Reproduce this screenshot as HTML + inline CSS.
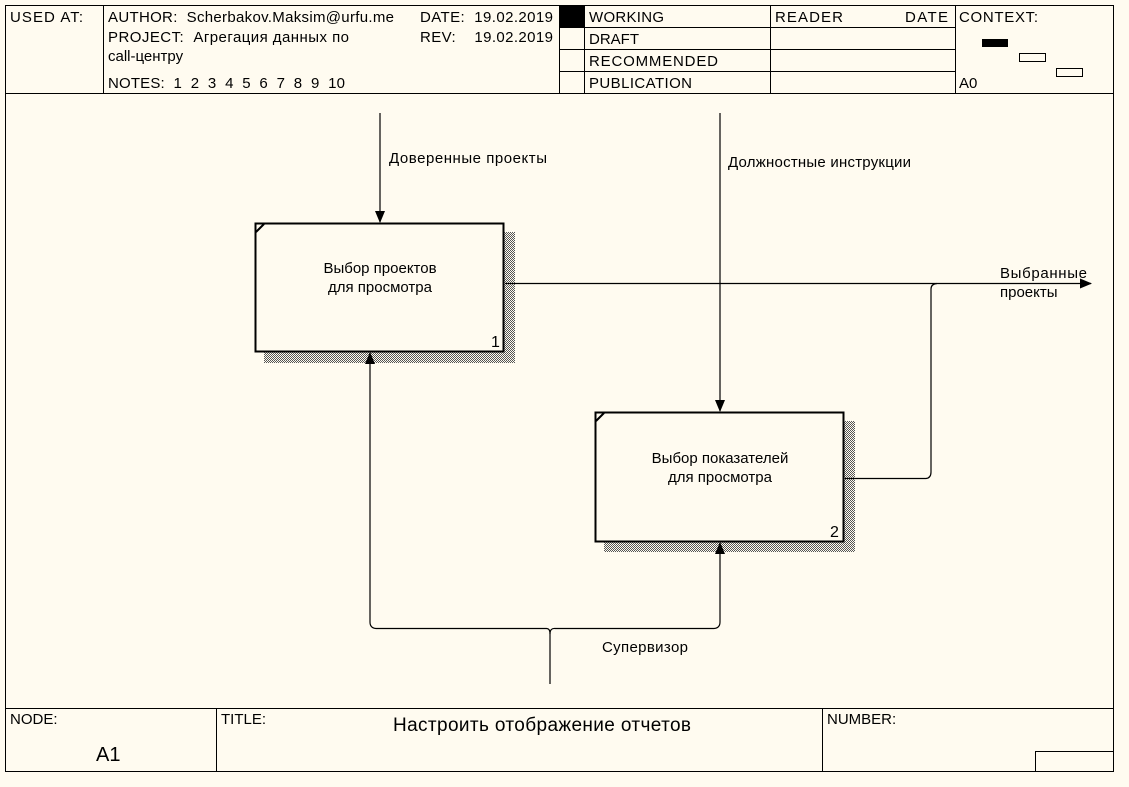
<!DOCTYPE html>
<html><head><meta charset="utf-8"><style>
body{margin:0;background:#fffbf0;}
svg{display:block}
text{font-family:"Liberation Sans","DejaVu Sans",sans-serif;fill:#000;white-space:pre;}
</style></head><body>
<svg width="1129" height="787" viewBox="0 0 1129 787" xmlns="http://www.w3.org/2000/svg">
<defs>
<pattern id="dots" width="2" height="2" patternUnits="userSpaceOnUse">
<rect width="2" height="2" fill="#fffbf0"/><rect width="1" height="1" fill="#555"/><rect x="1" y="1" width="1" height="1" fill="#555"/>
</pattern>
<marker id="ar" markerWidth="12" markerHeight="12" refX="11" refY="5" orient="auto" markerUnits="userSpaceOnUse"><path d="M0,0 L12,5 L0,10 z" fill="#000"/></marker>
</defs>
<rect width="1129" height="787" fill="#fffbf0"/>
<g stroke="#000" stroke-width="1" fill="none">
<rect x="5.5" y="5.5" width="1108" height="766"/>
<line x1="5" y1="93.5" x2="1113" y2="93.5"/>
<line x1="103.5" y1="5" x2="103.5" y2="93"/>
<line x1="559.5" y1="5" x2="559.5" y2="93"/>
<line x1="584.5" y1="5" x2="584.5" y2="93"/>
<line x1="770.5" y1="5" x2="770.5" y2="93"/>
<line x1="955.5" y1="5" x2="955.5" y2="93"/>
<line x1="559" y1="27.5" x2="955" y2="27.5"/>
<line x1="559" y1="49.5" x2="955" y2="49.5"/>
<line x1="559" y1="71.5" x2="955" y2="71.5"/>
<rect x="1019.5" y="53.5" width="26" height="8"/>
<rect x="1056.5" y="68.5" width="26" height="8"/>
<line x1="5" y1="708.5" x2="1113" y2="708.5"/>
<line x1="216.5" y1="708" x2="216.5" y2="771"/>
<line x1="822.5" y1="708" x2="822.5" y2="771"/>
<rect x="1035.5" y="751.5" width="78" height="20"/>
</g>
<rect x="560" y="6" width="24" height="21" fill="#000"/>
<rect x="982" y="39" width="26" height="8" fill="#000"/>
<g font-size="15">
<text x="10" y="22" textLength="73">USED AT:</text>
<text x="108" y="22" textLength="286">AUTHOR:  Scherbakov.Maksim@urfu.me</text>
<text x="108" y="42" textLength="241">PROJECT:  Агрегация данных по</text>
<text x="108" y="61">call-центру</text>
<text x="108" y="88" textLength="237">NOTES:  1  2  3  4  5  6  7  8  9  10</text>
<text x="420" y="22" textLength="133">DATE:  19.02.2019</text>
<text x="420" y="42" textLength="133">REV:    19.02.2019</text>
<text x="589" y="22" textLength="75">WORKING</text>
<text x="589" y="44">DRAFT</text>
<text x="589" y="66" textLength="129">RECOMMENDED</text>
<text x="589" y="88" textLength="103">PUBLICATION</text>
<text x="775" y="22" textLength="68">READER</text>
<text x="905" y="22" textLength="43">DATE</text>
<text x="959" y="22" textLength="79">CONTEXT:</text>
<text x="959" y="88">A0</text>
<text x="10" y="724">NODE:</text>
<text x="221" y="724">TITLE:</text>
<text x="827" y="724">NUMBER:</text>
</g>
<text x="393" y="731" font-size="19" textLength="298">Настроить отображение отчетов</text>
<text x="96" y="761" font-size="20">A1</text>
<rect x="264" y="232" width="251" height="131" fill="url(#dots)"/>
<rect x="604" y="421" width="251" height="131" fill="url(#dots)"/>
<rect x="255.5" y="223.5" width="248" height="128" fill="#fffbf0" stroke="#000" stroke-width="2"/>
<rect x="595.5" y="412.5" width="248" height="129" fill="#fffbf0" stroke="#000" stroke-width="2"/>
<line x1="256" y1="232" x2="264" y2="224" stroke="#000" stroke-width="2"/>
<line x1="596" y1="421" x2="604" y2="413" stroke="#000" stroke-width="2"/>
<g font-size="15" text-anchor="middle">
<text x="380" y="273">Выбор проектов</text>
<text x="380" y="292">для просмотра</text>
<text x="720" y="463">Выбор показателей</text>
<text x="720" y="482">для просмотра</text>
</g>
<text x="491" y="347" font-size="16">1</text>
<text x="830" y="537" font-size="16">2</text>
<g stroke="#000" stroke-width="1.2" fill="none">
<line x1="380" y1="113" x2="380" y2="222" marker-end="url(#ar)"/>
<line x1="720" y1="113" x2="720" y2="411" marker-end="url(#ar)"/>
<line x1="505" y1="283.5" x2="1091" y2="283.5" marker-end="url(#ar)"/>
<path d="M845,478.5 H926 Q931,478 931,472 V289 Q931,284 937,283.5"/>
<path d="M550,684 V634 Q550,628 546,628.5 H376 Q370,628 370,622 V353" marker-end="url(#ar)"/>
<path d="M550,634 Q550,628 555,628.5 H714 Q720,628 720,622 V543" marker-end="url(#ar)"/>
</g>
<g font-size="15">
<text x="389" y="163" textLength="158">Доверенные проекты</text>
<text x="728" y="167" textLength="183">Должностные инструкции</text>
<text x="1000" y="278" textLength="87">Выбранные</text>
<text x="1000" y="297">проекты</text>
<text x="602" y="652" textLength="86">Супервизор</text>
</g>
</svg>
</body></html>
